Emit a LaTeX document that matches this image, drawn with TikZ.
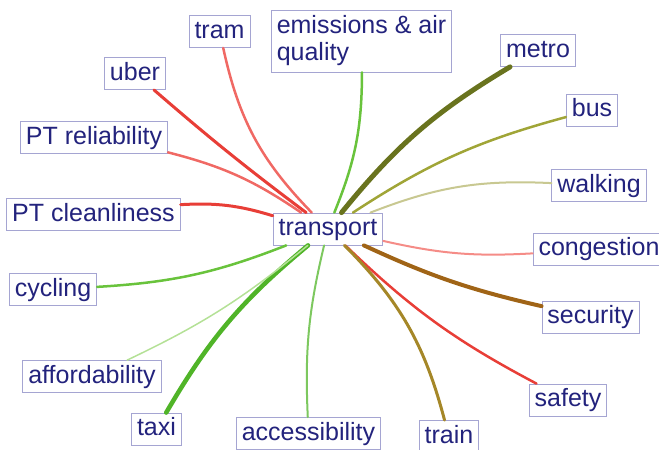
\documentclass[tikz,border=0pt]{standalone}
\usepackage{fontspec}
\setmainfont{Liberation Sans}
\usepackage{tikz}
\usetikzlibrary{positioning}

\begin{document}
\begin{tikzpicture}[x=1pt,y=-1pt]
	\definecolor{tnavy}{RGB}{35,35,125}
	\definecolor{tframe}{RGB}{165,165,210}
	\definecolor{cred}{RGB}{232,62,55}
	\definecolor{cpink}{RGB}{240,105,100}
	\definecolor{clight}{RGB}{245,140,135}
	\definecolor{cgreen}{RGB}{105,195,60}
	\definecolor{cleaf}{RGB}{80,180,40}
	\definecolor{cpale}{RGB}{180,225,150}
	\definecolor{cmint}{RGB}{125,200,95}
	\definecolor{colive}{RGB}{105,115,30}
	\definecolor{cmoss}{RGB}{160,165,55}
	\definecolor{ckhaki}{RGB}{200,200,145}
	\definecolor{cgold}{RGB}{165,135,40}
	\definecolor{cbrown}{RGB}{160,100,22}
	\tikzset{
		term/.style={
			draw=tframe, line width=0.8pt, fill=white, text=tnavy,
			font=\fontsize{25}{27}\selectfont,
			inner xsep=5.5pt, inner ysep=4.5pt
		},
		word/.style={term, text height=18pt, text depth=5pt},
		lnk/.style={line cap=round}
	}
	\useasboundingbox (0,0) rectangle (659,450);

	% ======= centre =======
	\node[word] (hub) at (328,229) {transport};

	% ======= topics round the centre =======
	\node[word] (tram)   at (219.5, 31.5) {tram};
	\node[term, align=left, minimum height=62pt] (emis) at (361.5,41) {emissions \& air\\quality};
	\node[word] (metro)  at (538, 50.5) {metro};
	\node[word] (bus)    at (592,110)   {bus};
	\node[word] (walk)   at (599,185.5) {walking};
	\node[word] (cong)   at (599,249)   {congestion};
	\node[word] (secu)   at (590.5,317) {security};
	\node[word] (safe)   at (568,400)   {safety};
	\node[word] (train)  at (449,436.5) {train};
	\node[word] (acc)    at (308.5,433.5) {accessibility};
	\node[word] (taxi)   at (156.5,429) {taxi};
	\node[word] (afford) at (92,376.5)  {affordability};
	\node[word] (cyc)    at (53,289.5)  {cycling};
	\node[word] (ptclean) at (93.5,214.5) {PT cleanliness};
	\node[word] (ptrel)  at (94,137.5)  {PT reliability};
	\node[word] (uber)   at (135,73.5)  {uber};

	% ======= links =======
	\draw[lnk, cpink, line width=2.5pt] (tram) to[bend right=16] (hub);
	\draw[lnk, cred, line width=3pt] (uber) to[bend right=2] (hub);
	\draw[lnk, cpink, line width=2.5pt] (ptrel) to[bend left=10] (hub);
	\draw[lnk, cred, line width=3pt] (ptclean) to[bend left=10] (hub);
	\draw[lnk, cgreen, line width=2.5pt] (emis) to[bend left=11] (hub);
	\draw[lnk, colive, line width=5pt] (metro) to[bend right=10] (hub);
	\draw[lnk, cmoss, line width=2.5pt] (bus) to[bend right=9] (hub);
	\draw[lnk, ckhaki, line width=2pt] (walk) to[bend right=12] (hub);
	\draw[lnk, clight, line width=2pt] (cong) to[bend left=8] (hub);
	\draw[lnk, cbrown, line width=4pt] (secu) to[bend left=6] (hub);
	\draw[lnk, cred, line width=2.5pt] (safe) to[bend left=8] (hub);
	\draw[lnk, cgold, line width=3pt] (train) to[bend right=15] (hub);
	\draw[lnk, cmint, line width=2pt] (acc) to[bend left=8] (hub);
	\draw[lnk, cleaf, line width=4.5pt] (taxi) to[bend left=10] (hub);
	\draw[lnk, cpale, line width=1.5pt] (afford) to[bend right=7] (hub);
	\draw[lnk, cgreen, line width=2.5pt] (cyc) to[bend right=9] (hub);
\end{tikzpicture}
\end{document}
